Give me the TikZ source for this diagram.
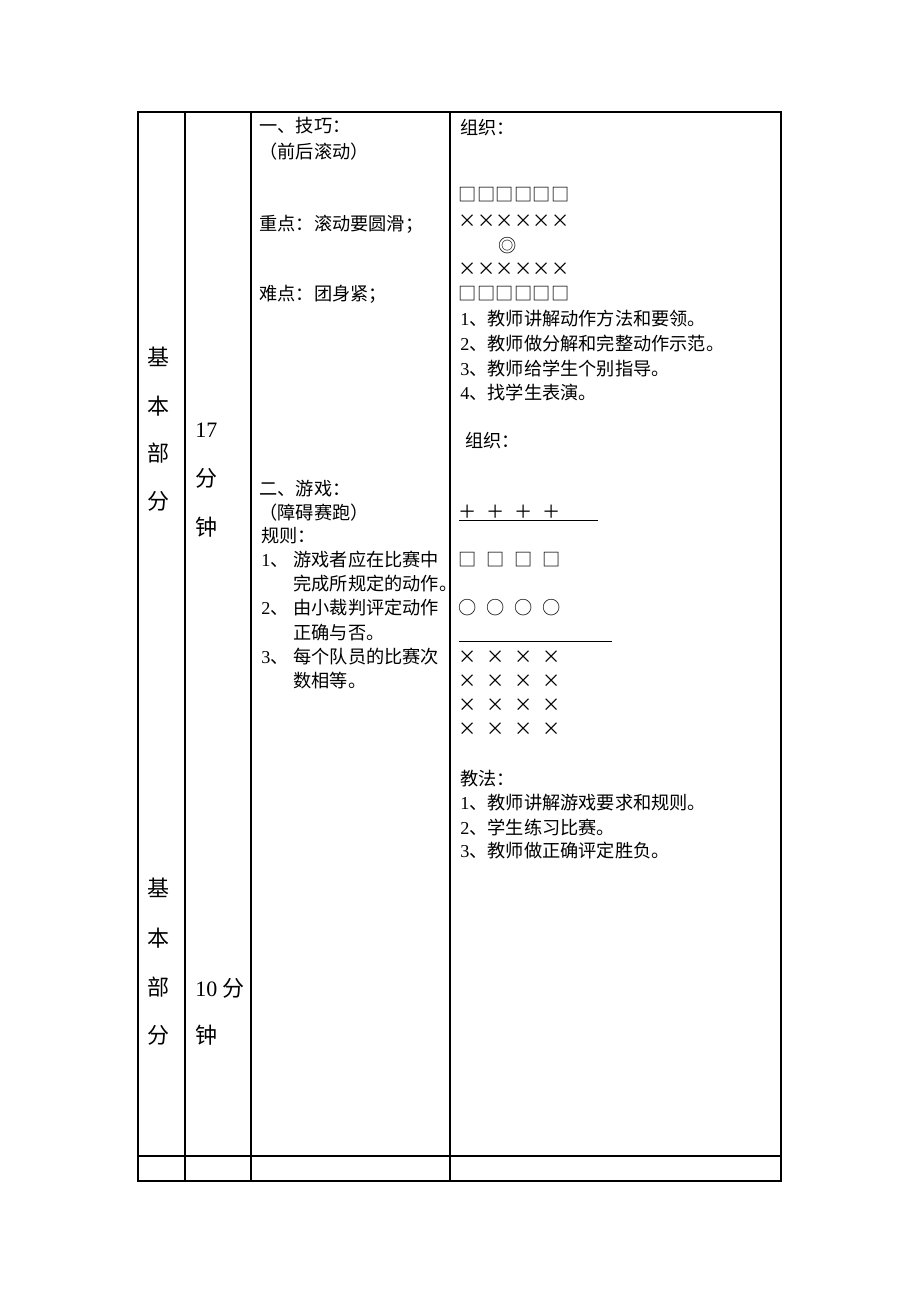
\documentclass[tikz,border=0pt]{standalone}
\usepackage{fontspec}
\setmainfont{Noto Sans CJK SC}
\newfontfamily\numfont{Liberation Serif}

\begin{document}
\begin{tikzpicture}[x=0.5pt,y=-0.5pt]
\useasboundingbox (0,0) rectangle (920,1302);

% table lines
\begin{scope}[line width=0.75pt]
    \draw[line width=0.95pt] (138,112) rectangle (781,1181);
    \draw (185,112) -- (185,1181);
    \draw (251,112) -- (251,1181);
    \draw (450,112) -- (450,1181);
    \draw (138,1156) -- (781,1156);
\end{scope}

% first two columns
\begin{scope}[every node/.style={anchor=base,inner sep=0pt,font=\fontsize{11pt}{14pt}\selectfont}]
    \node (ji1) at (158,365) {基};
    \node (ben1) at (158,414) {本};
    \node (bu1) at (158,461) {部};
    \node (fen1) at (158,509) {分};
    \node (ji2) at (158,896) {基};
    \node (ben2) at (158,946) {本};
    \node (bu2) at (158,995) {部};
    \node (fen2) at (158,1043) {分};
\end{scope}

\begin{scope}[every node/.style={anchor=base west,inner sep=0pt,font=\fontsize{11pt}{14pt}\selectfont}]
    \node (t17) at (195,437) {\numfont 17};
    \node (fz1) at (195,486) {分};
    \node (zh1) at (195,535) {钟};
    \node (t10) at (195,996) {{\numfont 10} 分};
    \node (zh2) at (195,1043) {钟};
\end{scope}

% third column
\begin{scope}[every node/.style={anchor=base west,inner sep=0pt,font=\fontsize{9.1pt}{12pt}\selectfont}]
    \node (jq) at (259,132) {一、技巧：};
    \node (gd) at (259,158) {（前后滚动）};
    \node (zd) at (259,230) {重点：滚动要圆滑；};
    \node (nd) at (259,300) {难点：团身紧；};
    \node (yx) at (259,495) {二、游戏：};
    \node (zapao) at (259,519) {（障碍赛跑）};
    \node (gz) at (261,542) {规则：};
    \node (n1) at (261,566) {{\numfont 1}、};
    \node (r1) at (293,566) {游戏者应在比赛中};
    \node (r1b) at (293,590) {完成所规定的动作。};
    \node (n2) at (261,614) {{\numfont 2}、};
    \node (r2) at (293,614) {由小裁判评定动作};
    \node (r2b) at (293,639) {正确与否。};
    \node (n3) at (261,663) {{\numfont 3}、};
    \node (r3) at (293,663) {每个队员的比赛次};
    \node (r3b) at (293,687) {数相等。};
\end{scope}

% fourth column
\begin{scope}[every node/.style={anchor=base west,inner sep=0pt,font=\fontsize{9.1pt}{12pt}\selectfont}]
    \node (zz1) at (460,134) {组织：};
    \node (s1) at (460,325) {{\numfont 1}、教师讲解动作方法和要领。};
    \node (s2) at (460,350) {{\numfont 2}、教师做分解和完整动作示范。};
    \node (s3) at (460,375) {{\numfont 3}、教师给学生个别指导。};
    \node (s4) at (460,399) {{\numfont 4}、找学生表演。};
    \node (zz2) at (465,447) {组织：};
    \node (jf) at (460,785) {教法：};
    \node (f1) at (460,809) {{\numfont 1}、教师讲解游戏要求和规则。};
    \node (f2) at (460,834) {{\numfont 2}、学生练习比赛。};
    \node (f3) at (460,857) {{\numfont 3}、教师做正确评定胜负。};
\end{scope}

% formation marks
\begin{scope}[every node/.style={anchor=base,inner sep=0pt,font=\fontsize{9.1pt}{12pt}\selectfont}]
    \foreach \i in {0,...,5} {
        \node (qa\i) at (468+18.5*\i,201) {□};
        \node (xa\i) at (468+18.5*\i,227) {×};
        \node (xb\i) at (468+18.5*\i,275) {×};
        \node (qb\i) at (468+18.5*\i,300) {□};
    }
    \node (teacher) at (508,252) {◎};
    \foreach \i in {0,...,3} {
        \node (pl\i) at (468+27.7*\i,518) {＋};
        \node (sq\i) at (468+27.7*\i,566) {□};
        \node (ci\i) at (468+27.7*\i,614) {○};
        \foreach \j in {0,...,3}
            \node (x\i\j) at (468+27.7*\i,663+24*\j) {×};
    }
\end{scope}
\draw[line width=0.75pt] (459,520.7) -- (598,520.7);
\draw[line width=0.75pt] (459,641.7) -- (612,641.7);
\end{tikzpicture}
\end{document}
